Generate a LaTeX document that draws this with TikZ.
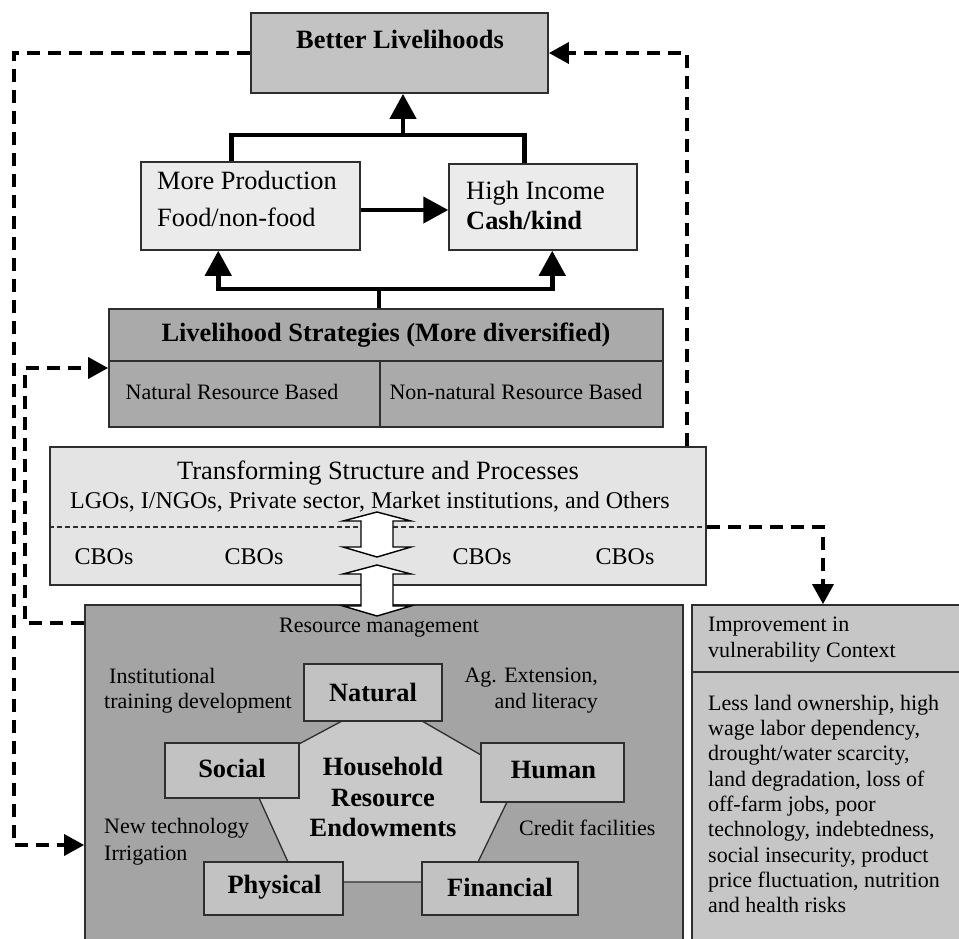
\documentclass[tikz,border=0pt]{standalone}
\usepackage{fontspec}
\setmainfont{Liberation Serif}
\usetikzlibrary{arrows.meta,calc}

\definecolor{edge}{HTML}{2E2E2E}
\definecolor{betterfill}{HTML}{C3C3C3}
\definecolor{lightfill}{HTML}{EBEBEB}
\definecolor{stratfill}{HTML}{AAAAAA}
\definecolor{transfill}{HTML}{E4E4E4}
\definecolor{resfill}{HTML}{A4A4A4}
\definecolor{capfill}{HTML}{C2C2C2}
\definecolor{pentfill}{HTML}{C9C9C9}
\definecolor{vulnfill}{HTML}{C6C6C6}

\newcommand{\bigtxt}{\fontsize{26.4}{30}\selectfont}
\newcommand{\midtxt}{\fontsize{24}{28}\selectfont}
\newcommand{\smalltxt}{\fontsize{22}{25.3}\selectfont}

\begin{document}
\begin{tikzpicture}[x=1pt,y=-1pt,
  box/.style={draw=edge, line width=1.8pt, inner sep=0pt},
  capbox/.style={box, fill=capfill, line width=1.6pt},
  lbl/.style={inner sep=0pt, text=black},
  conn/.style={line width=4.5pt, draw=black},
  dsh/.style={line width=3.6pt, draw=black, dash pattern=on 13pt off 8pt},
  bigtip/.tip={Triangle[length=25pt,width=26pt]},
  smalltip/.tip={Triangle[length=20pt,width=21pt]},
  blockarrow/.style={draw=black, fill=white, line width=1.4pt, line join=miter}
]
\useasboundingbox (0,0) rectangle (959,938);

% ---------- boxes ----------
\node[box, fill=betterfill, minimum width=297pt, minimum height=80pt] (better) at (399.5,53) {};
\node[box, fill=lightfill, line width=1.5pt, minimum width=219pt, minimum height=88pt] (prod) at (250.5,206) {};
\node[box, fill=lightfill, line width=1.5pt, minimum width=188pt, minimum height=86pt] (income) at (543,207) {};
\node[box, fill=stratfill, minimum width=554pt, minimum height=118pt] (strat) at (386,368) {};
\node[box, fill=transfill, minimum width=656pt, minimum height=138pt] (trans) at (378,516) {};
\node[box, fill=resfill, minimum width=598pt, minimum height=335pt] (res) at (384,772.5) {};
\node[box, fill=vulnfill, minimum width=268pt, minimum height=335pt] (vuln) at (826,772.5) {};

% dividers inside the strategy and vulnerability boxes
\draw[draw=edge, line width=1.6pt] ($(strat.north west)+(0,53)$) -- ($(strat.north east)+(0,53)$);
\draw[draw=edge, line width=1.6pt] ($(strat.north west)+(272,53)$) -- ($(strat.south west)+(272,0)$);
\draw[draw=edge, line width=1.6pt] ($(vuln.north west)+(0,68)$) -- ($(vuln.north east)+(0,68)$);

% ---------- household resource pentagon ----------
\draw[fill=pentfill, draw=edge, line width=1.3pt]
  (342,721) -- (422,721) -- (481,755) -- (507,802) -- (478,862) -- (422,882)
  -- (343,882) -- (288,862) -- (259,798) -- (299,744) -- cycle;

\node[capbox, minimum width=138pt, minimum height=57pt] (natural) at (373,692.5) {};
\node[capbox, minimum width=134pt, minimum height=55pt] (social) at (232,770.5) {};
\node[capbox, minimum width=143pt, minimum height=59pt] (human) at (552.5,772.5) {};
\node[capbox, minimum width=139pt, minimum height=53pt] (physical) at (273.5,888.5) {};
\node[capbox, minimum width=156pt, minimum height=53pt] (financial) at (500,888.5) {};

% ---------- texts ----------
\node[lbl, font=\bigtxt\bfseries] (tbetter) at (400,39) {Better Livelihoods};
\node[lbl, font=\fontsize{26.4}{37}\selectfont, anchor=west, align=left] (tprod) at (157,198.5)
  {More Production\\Food/non-food};
\node[lbl, font=\bigtxt, anchor=west, align=left] (tincome) at (466,205)
  {High Income\\\textbf{Cash/kind}};
\node[lbl, font=\bigtxt\bfseries] (tstrat) at (386,335) {Livelihood Strategies (More diversified)};
\node[lbl, font=\smalltxt] (tnat) at (232,392) {Natural Resource Based};
\node[lbl, font=\smalltxt] (tnonnat) at (516,392) {Non-natural Resource Based};
\node[lbl, font=\bigtxt] (ttrans) at (378,473) {Transforming Structure and Processes};
\node[lbl, font=\midtxt] (tinst) at (370,502) {LGOs, I/NGOs, Private sector, Market institutions, and Others};
\node[lbl, font=\midtxt] (cbo1) at (104,557) {CBOs};
\node[lbl, font=\midtxt] (cbo2) at (254,557) {CBOs};
\node[lbl, font=\midtxt] (cbo3) at (482,557) {CBOs};
\node[lbl, font=\midtxt] (cbo4) at (625,557) {CBOs};
\node[lbl, font=\smalltxt] (tresman) at (379,628) {Resource management};
\node[lbl, font=\smalltxt, anchor=west, align=left] (ttrain) at (104,690.5)
  {\hspace{5pt}Institutional\\training development};
\node[lbl, font=\smalltxt, anchor=east, align=right] (text) at (598,690.5)
  {Ag. Extension,\\and literacy};
\node[lbl, font=\fontsize{22}{27}\selectfont, anchor=west, align=left] (ttech) at (104,841.5)
  {New technology\\Irrigation};
\node[lbl, font=\smalltxt, anchor=west] (tcredit) at (519,828) {Credit facilities};
\node[lbl, font=\bigtxt\bfseries] (tnatural) at (natural) {Natural};
\node[lbl, font=\bigtxt\bfseries] (tsocial) at ($(social)+(0,-2)$) {Social};
\node[lbl, font=\bigtxt\bfseries] (thuman) at ($(human)+(1,-2)$) {Human};
\node[lbl, font=\bigtxt\bfseries] (tphysical) at ($(physical)+(1,-1)$) {Physical};
\node[lbl, font=\bigtxt\bfseries] (tfinancial) at ($(financial)+(0,-1)$) {Financial};
\node[lbl, font=\fontsize{26.4}{30.5}\selectfont\bfseries, align=center] (thh) at (383,797)
  {Household\\Resource\\Endowments};
\node[lbl, font=\smalltxt, anchor=west, align=left] (tvulnhead) at (708,639.5)
  {Improvement in\\vulnerability Context};
\node[lbl, font=\smalltxt, anchor=west, align=left] (tvuln) at (708,804)
  {Less land ownership, high\\wage labor dependency,\\drought/water scarcity,\\land degradation, loss of\\off-farm jobs, poor\\technology, indebtedness,\\social insecurity, product\\price fluctuation, nutrition\\and health risks};

% ---------- solid connectors ----------
\coordinate (jtop) at (403,135);
\coordinate (jlow) at (379,289);
\draw[conn, -bigtip] (jtop) -- (jtop |- better.south);
\draw[conn] ($(prod.north west)+(91,0)$) |- (jtop) -| ($(income.north west)+(76,0)$);
\draw[conn, -bigtip] ($(prod.east)+(0,4)$) -- ($(income.west)+(0,3)$);
\draw[conn] (strat.north -| jlow) -- (jlow);
\draw[conn, bigtip-bigtip] ($(prod.south west)+(78,0)$) |- (jlow) -| ($(income.south west)+(104,0)$);

% ---------- dashed feedback connectors ----------
\coordinate (outerL) at (14,845);
\coordinate (outerR) at ($(trans.north east)+(-20,0)$);
\coordinate (innerL) at (25,623);
\coordinate (cboR) at (823,527);
\draw[dsh, -smalltip] (better.west) -| (outerL) -- (outerL -| res.west);
\draw[dsh, -smalltip] (outerR) |- (better.east);
\draw[dsh, -smalltip] (innerL -| res.west) -- (innerL) |- (strat.west);
\draw[dsh, -smalltip] (cboR -| trans.east) -- (cboR) -- (cboR |- vuln.north);
\draw[draw=edge, line width=1.2pt, dash pattern=on 5pt off 3pt] (cboR -| trans.west) -- (cboR -| trans.east);

% ---------- two-way block arrows ----------
\draw[blockarrow] (377,512) -- (411,521) -- (393,521) -- (393,547) -- (411,547) -- (377,557)
  -- (343,547) -- (361,547) -- (361,521) -- (343,521) -- cycle;
\draw[blockarrow] (377,565) -- (411,574) -- (393,574) -- (393,606) -- (411,606) -- (377,616)
  -- (343,606) -- (361,606) -- (361,574) -- (343,574) -- cycle;
\end{tikzpicture}
\end{document}
